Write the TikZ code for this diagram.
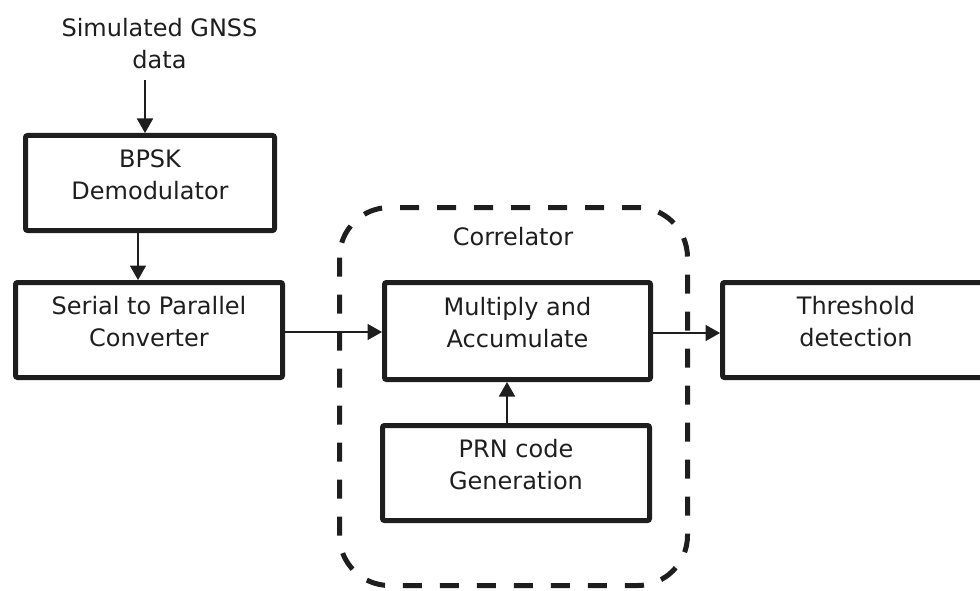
\documentclass[tikz,border=0pt]{standalone}
\usepackage{fontspec}
\setmainfont{DejaVu Sans}
\usetikzlibrary{arrows.meta,calc}
\definecolor{ink}{HTML}{1E1E1E}
% two centred lines; extra depth lifts them a little above the box centre
\newcommand\boxlines[2]{\raisebox{0pt}[\height][\dimexpr\depth+11pt\relax]{\begin{tabular}{@{}c@{}}#1\\#2\end{tabular}}}
\begin{document}
\begin{tikzpicture}[x=1pt,y=-1pt,
  every node/.style={font=\fontsize{24}{32}\selectfont, text=ink},
  block/.style={draw=ink, line width=5pt, rounded corners=2pt, align=center,
    minimum width=#1, minimum height=95pt, inner sep=0pt},
  block/.default=267pt,
  arr/.style={draw=ink, line width=1.8pt, -{Triangle[length=14.5pt,width=16pt]}},
  group/.style={draw=ink, line width=5pt, dash pattern=on 19pt off 18pt, rounded corners=50pt}
]
\useasboundingbox (0,0) rectangle (980,591);

% input label
\node[align=center] (sim) at (159.5,44) {Simulated GNSS\\data};

% processing chain
\node[block=249pt] (bpsk) at (150,183) {\boxlines{BPSK}{Demodulator}};
\node[block=267pt] (s2p) at (149,330) {\boxlines{Serial to Parallel}{Converter}};
\node[block=266pt, minimum height=97pt] (mac) at (517.5,331) {\boxlines{Multiply and}{Accumulate}};
\node[block=267pt] (prn) at (516,473) {\boxlines{PRN code}{Generation}};
\node[block=267pt] (thr) at (856,330) {\boxlines{Threshold}{detection}};

% correlator group outline
\draw[group] (339.5,207.5) rectangle (687.5,585.5);
\node (corr) at (513,237) {Correlator};

% connectors
\coordinate (simout) at (145,80);
\draw[arr] (simout) -- (simout |- bpsk.north);
\coordinate (bpskout) at (138,233);
\draw[arr] (bpskout) -- (bpskout |- s2p.north);
\draw[arr] (s2p.east |- 0,332) -- (mac.west |- 0,332);
\draw[arr] (mac.east |- 0,333) -- (thr.west |- 0,333);
\coordinate (prnout) at (507,423);
\draw[arr] (prnout) -- (prnout |- mac.south);
\end{tikzpicture}
\end{document}
